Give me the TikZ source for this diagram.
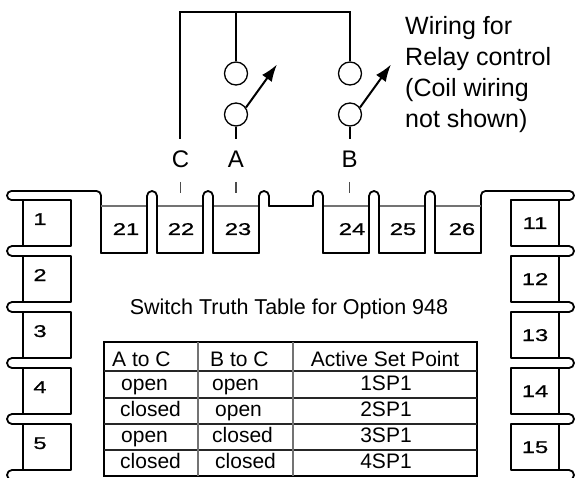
\documentclass[tikz,border=0pt]{standalone}
\usepackage{fontspec}
\setmainfont{Liberation Sans}
\newfontfamily\widenum[FakeStretch=1.4,FakeBold=0.8]{Liberation Sans}
\usetikzlibrary{arrows.meta,calc}

\begin{document}
\begin{tikzpicture}[x=1pt,y=-1pt,
    outline/.style={line width=1.8pt, line cap=round, line join=round},
    boxtop/.style={line width=1.1pt, black!55},
    wire/.style={line width=1.8pt},
    tick/.style={line width=1.1pt, black!70},
    contact/.style={circle, draw, line width=1.3pt, minimum size=23pt, inner sep=0pt},
    lever/.style={line width=2pt, -{Latex[length=17pt,width=12pt]}},
    num/.style={font=\widenum\fontsize{17}{17}\selectfont, anchor=base, inner sep=0pt},
    tag/.style={font=\fontsize{24}{24}\selectfont, anchor=base, inner sep=0pt},
    note/.style={font=\fontsize{25}{25}\selectfont, anchor=base west, inner sep=0pt},
    cell/.style={font=\fontsize{21}{21}\selectfont, anchor=base, inner sep=0pt}]
            \clip (0,0) rectangle (575,478);
            % relay contacts
            \node[contact] (a1) at (236,73.5) {};
            \node[contact] (a2) at (236,114.5) {};
            \node[contact] (b1) at (350,73.5) {};
            \node[contact] (b2) at (350,114.5) {};
            \coordinate (ctop) at (180,12);
            \coordinate (cend) at (180,139);
            \coordinate (aend) at (236,139);
            \coordinate (bend) at (350,139);
            \draw[wire] (cend) -- (ctop) -| (b1.north);
            \draw[wire] (a1.north) -- (a1.north |- ctop);
            \draw[wire] (a2.south) -- (aend);
            \draw[wire] (b2.south) -- (bend);
            \draw[lever] (a2.35) -- ++(31,-43);
            \draw[lever] (b2.35) -- ++(31,-43);
            \foreach \t [count=\k] in {{Wiring for},{Relay control},{(Coil wiring},{not shown)}}
                \node[note] (note\k) at (405,{35+31*(\k-1)}) {\t};
            \node[tag] (lc) at (180.5,168) {C};
            \node[tag] (la) at (236,168) {A};
            \node[tag] (lb) at (349.5,168) {B};
            \foreach \l in {lc,la,lb}
                \draw[tick] ($(\l.base)+(0,14)$) -- +(0,11);
            % top terminal strip
            \draw[outline, rounded corners=4.5pt] (23,200) -- (7,200) -- (7,191) -- (101,191) -- (101,253);
            \draw[outline, rounded corners=4.5pt] (481,253) -- (481,191) -- (574,191) -- (574,200) -- (511,200);
            \foreach \x/\n/\dx in {101/21/2,157/22/1,213/23/2,323/24/6,379/25/1,435/26/4} {
                \draw[boxtop] (\x,206) -- ++(46,0);
                \draw[outline] (\x,253) -- ++(46,0);
                \node[num] (t\n) at (\x+23+\dx,235) {\n};
            }
            \foreach \x in {147,203,369,425}
                \draw[outline, rounded corners=5pt] (\x,253) -- (\x,191) -- (\x+10,191) -- (\x+10,253);
            \draw[outline, rounded corners=5pt] (259,253) -- (259,191) -- (269,191) -- (269,206);
            \draw[outline] (269,206) -- (313,206);
            \draw[outline, rounded corners=5pt] (313,206) -- (313,191) -- (323,191) -- (323,253);
            % side terminals
            \foreach \i in {1,...,5} {
                \pgfmathsetmacro\ty{200+56*(\i-1)}
                \draw[outline] (23,\ty) rectangle ++(48,46);
                \draw[outline, rounded corners=5pt] (23,\ty+46) -- (7,\ty+46) -- (7,\ty+56) -- (23,\ty+56);
                \node[num] (p\i) at (40,\ty+25) {\i};
                \pgfmathtruncatemacro\j{\i+10}
                \draw[outline] (511,\ty) rectangle ++(48,46);
                \draw[outline, rounded corners=5pt] (559,\ty+46) -- (574,\ty+46) -- (574,\ty+56) -- (559,\ty+56);
                \node[num] (p\j) at (535,\ty+29) {\j};
            }
            % truth table
            \node[cell, font=\fontsize{21.5}{21.5}\selectfont] (title) at (289,314) {Switch Truth Table for Option 948};
            \draw[line width=2.2pt] (104,342) rectangle (477,476);
            \foreach \y in {371,398,424,450}
                \draw[line width=1.6pt, black!85] (104,\y) -- (477,\y);
            \foreach \x in {198,293}
                \draw[line width=1.3pt, black!55] (\x,342) -- (\x,476);
            \node[cell, anchor=base west] (h1) at (112,366) {A to C};
            \node[cell, anchor=base west] (h2) at (210,366) {B to C};
            \node[cell] (h3) at (385,366) {Active Set Point};
            \foreach \y/\a/\xa/\b/\xb/\s in {390/open/121/open/212/1SP1,416/closed/120/open/215/2SP1,442/open/121/closed/212/3SP1,468/closed/120/closed/215/4SP1} {
                \node[cell, anchor=base west] (ac\s) at (\xa,\y) {\a};
                \node[cell, anchor=base west] (bc\s) at (\xb,\y) {\b};
                \node[cell] (sp\s) at (386,\y) {\s};
            }
        \end{tikzpicture}
\end{document}
